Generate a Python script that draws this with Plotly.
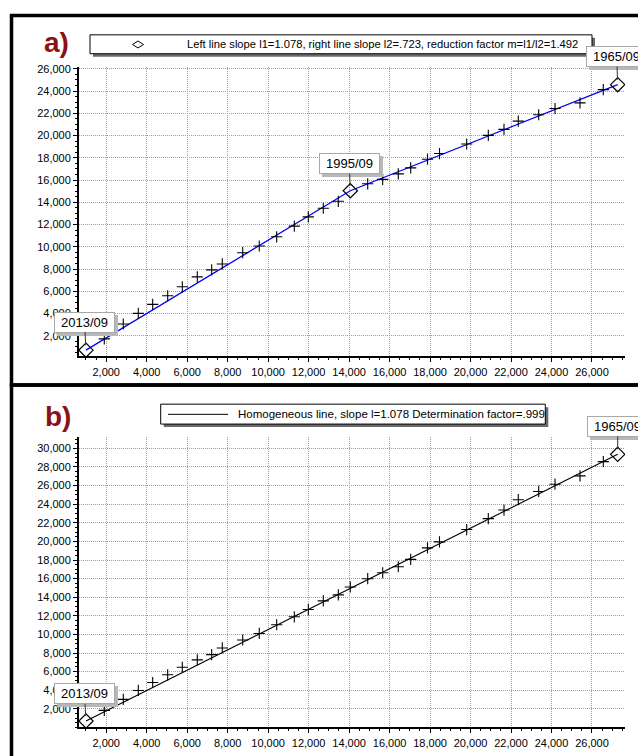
import plotly.graph_objects as go

# ---------------- data ----------------
cum_x = [1000, 1905, 2843, 3585, 4296, 5037, 5759, 6499, 7211, 7735, 8743, 9562,
         10422, 11292, 11984, 12725, 13466, 14059, 14919, 15660, 16430, 17043,
         17873, 18466, 19810, 20877, 21653, 22359, 23367, 24173, 25408, 26559, 27270]
cum_y_a = [715, 1725, 3065, 4021, 4826, 5603, 6407, 7301, 7927, 8463, 9473, 10072,
           10903, 11859, 12690, 13468, 14093, 15040, 15666, 16059, 16559, 17096,
           17873, 18382, 19240, 20018, 20554, 21296, 21868, 22431, 22940, 24129, 24575]
cum_y_b = [695, 1840, 3016, 3979, 4834, 5658, 6471, 7262, 7829, 8545, 9401, 10107,
           11037, 11893, 12674, 13604, 14246, 15102, 15989, 16631, 17273, 18064,
           19305, 19947, 21273, 22449, 23369, 24481, 25369, 26150, 27048, 28578, 29358]
break_idx_a = [0, 17, 32]
break_idx_b = [0, 32]
break_labels = {0: "2013/09", 17: "1995/09", 32: "1965/09"}
x_ticks = list(range(2000, 26001, 2000))
y_ticks_a = list(range(2000, 26001, 2000))
y_ticks_b = list(range(2000, 30001, 2000))
legend_a = "Left line slope l1=1.078, right line slope l2=.723, reduction factor m=l1/l2=1.492"
legend_b = "Homogeneous line, slope l=1.078 Determination factor=.999"

# ---------------- helpers ----------------
W, H = 638, 756
FONT = "Liberation Sans, Arial, sans-serif"


def fx(px):
    return px / W


def fy(py):
    return 1 - py / H


fig = go.Figure()

PLUS = dict(symbol="cross-thin", size=8, line=dict(color="black", width=1.1))
DIAM = dict(symbol="diamond-open", size=11, color="black", line=dict(color="black", width=1.2))

# panel a
plus_a = [i for i in range(len(cum_x)) if i not in break_idx_a]
fig.add_trace(go.Scatter(x=[cum_x[i] for i in break_idx_a], y=[cum_y_a[i] for i in break_idx_a],
                         mode="lines", line=dict(color="#0000ff", width=1.3),
                         xaxis="x", yaxis="y", showlegend=False, hoverinfo="skip"))
fig.add_trace(go.Scatter(x=[cum_x[i] for i in plus_a], y=[cum_y_a[i] for i in plus_a],
                         mode="markers", marker=PLUS, xaxis="x", yaxis="y", showlegend=False))
fig.add_trace(go.Scatter(x=[cum_x[i] for i in break_idx_a], y=[cum_y_a[i] for i in break_idx_a],
                         mode="markers", marker=DIAM, xaxis="x", yaxis="y", showlegend=False))

# panel b
plus_b = [i for i in range(len(cum_x)) if i not in break_idx_b]
fig.add_trace(go.Scatter(x=[cum_x[i] for i in break_idx_b], y=[cum_y_b[i] for i in break_idx_b],
                         mode="lines", line=dict(color="black", width=1.1),
                         xaxis="x2", yaxis="y2", showlegend=False, hoverinfo="skip"))
fig.add_trace(go.Scatter(x=[cum_x[i] for i in plus_b], y=[cum_y_b[i] for i in plus_b],
                         mode="markers", marker=PLUS, xaxis="x2", yaxis="y2", showlegend=False))
fig.add_trace(go.Scatter(x=[cum_x[i] for i in break_idx_b], y=[cum_y_b[i] for i in break_idx_b],
                         mode="markers", marker=DIAM, xaxis="x2", yaxis="y2", showlegend=False))

tickfont = dict(family=FONT, size=11, color="black")
grid = dict(showgrid=True, gridcolor="#a0a0a0", griddash="1px,1px", gridwidth=1,
            zeroline=False, showline=True, linecolor="black", linewidth=2,
            ticks="outside", ticklen=4, tickwidth=1, tickcolor="black",
            tickfont=tickfont, tickformat=",d",
            minor=dict(dtick=500, ticks="outside", ticklen=2, tickcolor="black", showgrid=False))

xdom = [fx(79), fx(625)]
fig.update_layout(
    width=W, height=H,
    margin=dict(l=0, r=0, t=0, b=0),
    paper_bgcolor="white", plot_bgcolor="white",
    xaxis=dict(domain=xdom, range=[655, 27631], tickvals=x_ticks, anchor="y", **grid),
    yaxis=dict(domain=[fy(354.3), fy(63)], range=[150, 26190], tickvals=y_ticks_a, anchor="x", **grid),
    xaxis2=dict(domain=xdom, range=[655, 27631], tickvals=x_ticks, anchor="y2", **grid),
    yaxis2=dict(domain=[fy(727.3), fy(435.7)], range=[0, 31180], tickvals=y_ticks_b, anchor="x2", **grid),
)

shapes = []
# outer frames
shapes.append(dict(type="rect", xref="paper", yref="paper", x0=fx(11.5), x1=fx(660),
                   y0=fy(383), y1=fy(11.5), line=dict(color="black", width=3.5)))
shapes.append(dict(type="rect", xref="paper", yref="paper", x0=fx(11.5), x1=fx(660),
                   y0=fy(770), y1=fy(383), line=dict(color="black", width=3.5)))

# legend boxes (shadow + box)
for (l, t, r, b) in [(90, 31, 592, 50), (160.7, 402.3, 545.3, 422.3)]:
    shapes.append(dict(type="rect", xref="paper", yref="paper", x0=fx(l + 3), x1=fx(r + 3),
                       y0=fy(b + 3), y1=fy(t + 3), fillcolor="#6a6a6a", line=dict(width=0), layer="above"))
    shapes.append(dict(type="rect", xref="paper", yref="paper", x0=fx(l), x1=fx(r),
                       y0=fy(b), y1=fy(t), fillcolor="white", line=dict(color="black", width=1), layer="above"))
# legend a: diamond symbol
cx, cy = 138, 40.7
shapes.append(dict(type="path", xref="paper", yref="paper", layer="above",
                   path=f"M {fx(cx-5.5)},{fy(cy)} L {fx(cx)},{fy(cy-3.5)} L {fx(cx+5.5)},{fy(cy)} L {fx(cx)},{fy(cy+3.5)} Z",
                   line=dict(color="black", width=1)))
# legend b: line sample
shapes.append(dict(type="line", xref="paper", yref="paper", layer="above",
                   x0=fx(168), x1=fx(228), y0=fy(412.5), y1=fy(412.5), line=dict(color="black", width=1)))
fig.update_layout(shapes=shapes)

annotations = []
annotations.append(dict(xref="paper", yref="paper", x=fx(185), y=fy(40.7), xanchor="left", yanchor="middle",
                        text=legend_a, showarrow=False, font=dict(family=FONT, size=11.2, color="black")))
annotations.append(dict(xref="paper", yref="paper", x=fx(236), y=fy(412.5), xanchor="left", yanchor="middle",
                        text=legend_b, showarrow=False, font=dict(family=FONT, size=11.5, color="black")))
# panel labels
annotations.append(dict(xref="paper", yref="paper", x=fx(57), y=fy(39), xanchor="center", yanchor="middle",
                        text="<b>a)</b>", showarrow=False, font=dict(family=FONT, size=28, color="#8b1212")))
annotations.append(dict(xref="paper", yref="paper", x=fx(58), y=fy(415), xanchor="center", yanchor="middle",
                        text="<b>b)</b>", showarrow=False, font=dict(family=FONT, size=28, color="#8b1212")))


def callout(i, ys, xa, ya, ax, ay):
    lab = break_labels[i]
    common = dict(x=cum_x[i], y=ys[i], xref=xa, yref=ya, text=lab, showarrow=True,
                  arrowhead=0, arrowwidth=1, standoff=5, width=55, height=15, borderpad=2,
                  font=dict(family=FONT, size=13, color="black"))
    annotations.append(dict(common, ax=ax + 3, ay=ay + 3, arrowcolor="rgba(0,0,0,0)",
                            bgcolor="#b8b8b8", bordercolor="#b8b8b8", borderwidth=1,
                            font=dict(family=FONT, size=13, color="#b8b8b8")))
    annotations.append(dict(common, ax=ax, ay=ay, arrowcolor="#333333",
                            bgcolor="white", bordercolor="#a8a8a8", borderwidth=1))


callout(0, cum_y_a, "x", "y", -1.5, -28)
callout(17, cum_y_a, "x", "y", -1, -27)
callout(32, cum_y_a, "x", "y", -1, -28)
callout(32, cum_y_b, "x2", "y2", 0, -28)
callout(0, cum_y_b, "x2", "y2", -1.5, -27)

fig.update_layout(annotations=annotations)
fig.write_html("out.html", config={"displayModeBar": False},
               post_script="document.body.style.margin='0px';document.body.style.overflow='hidden';")
